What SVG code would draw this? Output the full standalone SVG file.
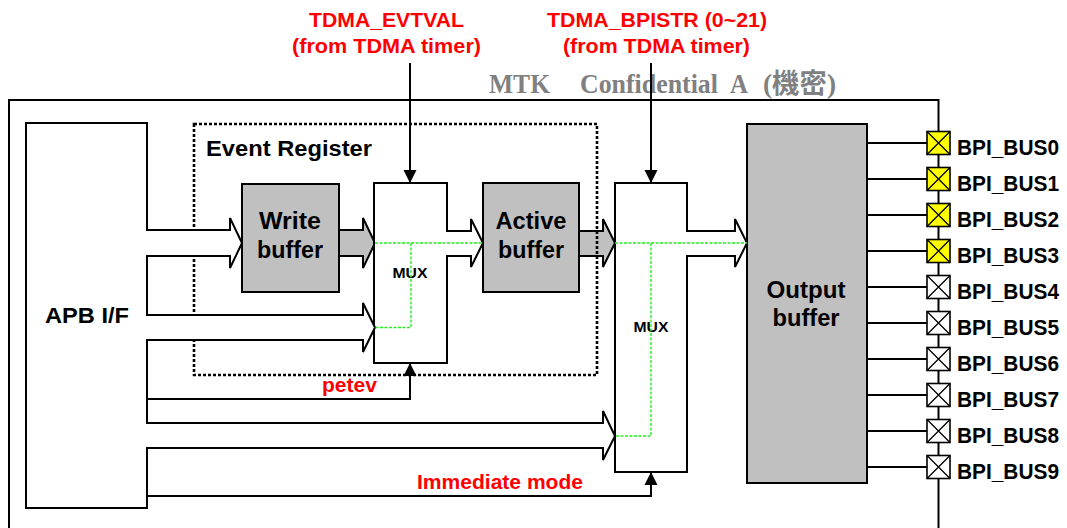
<svg xmlns="http://www.w3.org/2000/svg" width="1067" height="528" viewBox="0 0 1067 528">
<style>
.ln{fill:none;stroke:#000;stroke-width:2;stroke-linejoin:miter}
.wh{fill:#fff;stroke:#000;stroke-width:2}
.gy{fill:#c0c0c0;stroke:#000;stroke-width:2}
.dash{fill:none;stroke:#000;stroke-width:2.6;stroke-dasharray:3 2}
.grn{fill:none;stroke:#22ee22;stroke-width:1.4;stroke-dasharray:3 1.5}
.t{font-family:"Liberation Sans",Arial,sans-serif;font-weight:bold;fill:#000}
.b{font-family:"Liberation Sans",Arial,sans-serif;font-weight:bold;fill:#000;font-size:22px}
.r{font-family:"Liberation Sans",Arial,sans-serif;font-weight:bold;fill:#ff0000}
.wm{font-family:"Liberation Serif","Noto Sans CJK TC",serif;font-weight:bold;fill:#808080;font-size:27px}
.pad{stroke:#000;stroke-width:1.6}
.py{fill:#ffff00}
.pw{fill:#fff}
.px{fill:none;stroke:#000;stroke-width:1.3}
</style>
<defs>
<marker id="ah" viewBox="0 0 10 10" refX="10" refY="5" markerUnits="userSpaceOnUse" markerWidth="13" markerHeight="15" orient="auto">
<path d="M0,0 L10,5 L0,10 Z" fill="#000"/>
</marker>
</defs>

<g id="frame">
<path class="ln" d="M9,528 V100 H938.5 V528"/>
<text class="wm" x="489" y="93" textLength="61" lengthAdjust="spacingAndGlyphs">MTK</text>
<text class="wm" x="580" y="93" textLength="138" lengthAdjust="spacingAndGlyphs">Confidential</text>
<text class="wm" x="730" y="93" textLength="18" lengthAdjust="spacingAndGlyphs">A</text>
<text class="wm" x="763" y="93" textLength="73" lengthAdjust="spacingAndGlyphs">(機密)</text>
</g>

<g id="write-buffer">
<path class="gy" d="M335,230 H363 V218 L375,243 L363,268 V256 H335 Z"/>
<rect class="gy" x="242" y="184" width="97" height="108"/>
<text class="t" x="290" y="229" font-size="23" text-anchor="middle" textLength="62" lengthAdjust="spacingAndGlyphs">Write</text>
<text class="t" x="290" y="258" font-size="23" text-anchor="middle" textLength="66" lengthAdjust="spacingAndGlyphs">buffer</text>
</g>

<g id="mux1">
<path class="wh" d="M374,183 H447 V231 H471 V219 L483,243 L471,267 V256 H447 V363 H374 Z"/>
<text class="t" x="410" y="278" font-size="14" text-anchor="middle" textLength="35" lengthAdjust="spacingAndGlyphs">MUX</text>
</g>

<g id="active-buffer">
<path class="gy" d="M575,231 H603 V219 L615,243 L603,267 V256 H575 Z"/>
<rect class="gy" x="483" y="183" width="96" height="109"/>
<text class="t" x="531" y="229" font-size="23" text-anchor="middle" textLength="71" lengthAdjust="spacingAndGlyphs">Active</text>
<text class="t" x="531" y="258" font-size="23" text-anchor="middle" textLength="66" lengthAdjust="spacingAndGlyphs">buffer</text>
</g>

<g id="mux2">
<path class="wh" d="M615,183 H687 V231 H735 V219 L747,243 L735,267 V256 H687 V472 H615 Z"/>
<text class="t" x="651" y="332" font-size="14" text-anchor="middle" textLength="35" lengthAdjust="spacingAndGlyphs">MUX</text>
</g>

<g id="output-buffer">
<rect class="gy" x="747" y="124" width="120" height="359"/>
<text class="t" x="806" y="298" font-size="23" text-anchor="middle" textLength="79" lengthAdjust="spacingAndGlyphs">Output</text>
<text class="t" x="806" y="326" font-size="23" text-anchor="middle" textLength="67" lengthAdjust="spacingAndGlyphs">buffer</text>
</g>

<g id="event-register">
<rect class="dash" x="194" y="124" width="403" height="251"/>
<text class="t" x="206" y="156" font-size="22" textLength="166" lengthAdjust="spacingAndGlyphs">Event Register</text>
</g>

<g id="apb-if">
<path class="wh" d="M26,123 H147 V230 H230 V218 L242,243 L230,268 V256 H147 V315 H363 V303 L375,327.5 L363,352 V340 H147 V423 H603 V411 L615,436 L603,460 V448 H147 V508 H26 Z"/>
<text class="t" x="45" y="323" font-size="22" textLength="84" lengthAdjust="spacingAndGlyphs">APB I/F</text>
</g>

<g id="pads">
<g id="bpi0"><path class="ln" d="M867,143 H927"/><rect class="pad py" x="927" y="131.5" width="23" height="23"/><path class="px" d="M927,131.5 L950,154.5 M950,131.5 L927,154.5"/><text class="b" x="957" y="155" textLength="102" lengthAdjust="spacingAndGlyphs">BPI_BUS0</text></g>
<g id="bpi1"><path class="ln" d="M867,179 H927"/><rect class="pad py" x="927" y="167.5" width="23" height="23"/><path class="px" d="M927,167.5 L950,190.5 M950,167.5 L927,190.5"/><text class="b" x="957" y="191" textLength="102" lengthAdjust="spacingAndGlyphs">BPI_BUS1</text></g>
<g id="bpi2"><path class="ln" d="M867,215 H927"/><rect class="pad py" x="927" y="203.5" width="23" height="23"/><path class="px" d="M927,203.5 L950,226.5 M950,203.5 L927,226.5"/><text class="b" x="957" y="227" textLength="102" lengthAdjust="spacingAndGlyphs">BPI_BUS2</text></g>
<g id="bpi3"><path class="ln" d="M867,251 H927"/><rect class="pad py" x="927" y="239.5" width="23" height="23"/><path class="px" d="M927,239.5 L950,262.5 M950,239.5 L927,262.5"/><text class="b" x="957" y="263" textLength="102" lengthAdjust="spacingAndGlyphs">BPI_BUS3</text></g>
<g id="bpi4"><path class="ln" d="M867,287 H927"/><rect class="pad pw" x="927" y="275.5" width="23" height="23"/><path class="px" d="M927,275.5 L950,298.5 M950,275.5 L927,298.5"/><text class="b" x="957" y="299" textLength="102" lengthAdjust="spacingAndGlyphs">BPI_BUS4</text></g>
<g id="bpi5"><path class="ln" d="M867,323 H927"/><rect class="pad pw" x="927" y="311.5" width="23" height="23"/><path class="px" d="M927,311.5 L950,334.5 M950,311.5 L927,334.5"/><text class="b" x="957" y="335" textLength="102" lengthAdjust="spacingAndGlyphs">BPI_BUS5</text></g>
<g id="bpi6"><path class="ln" d="M867,359 H927"/><rect class="pad pw" x="927" y="347.5" width="23" height="23"/><path class="px" d="M927,347.5 L950,370.5 M950,347.5 L927,370.5"/><text class="b" x="957" y="371" textLength="102" lengthAdjust="spacingAndGlyphs">BPI_BUS6</text></g>
<g id="bpi7"><path class="ln" d="M867,395 H927"/><rect class="pad pw" x="927" y="383.5" width="23" height="23"/><path class="px" d="M927,383.5 L950,406.5 M950,383.5 L927,406.5"/><text class="b" x="957" y="407" textLength="102" lengthAdjust="spacingAndGlyphs">BPI_BUS7</text></g>
<g id="bpi8"><path class="ln" d="M867,431 H927"/><rect class="pad pw" x="927" y="419.5" width="23" height="23"/><path class="px" d="M927,419.5 L950,442.5 M950,419.5 L927,442.5"/><text class="b" x="957" y="443" textLength="102" lengthAdjust="spacingAndGlyphs">BPI_BUS8</text></g>
<g id="bpi9"><path class="ln" d="M867,467 H927"/><rect class="pad pw" x="927" y="455.5" width="23" height="23"/><path class="px" d="M927,455.5 L950,478.5 M950,455.5 L927,478.5"/><text class="b" x="957" y="479" textLength="102" lengthAdjust="spacingAndGlyphs">BPI_BUS9</text></g>
</g>

<g id="connectors">
<path class="ln" d="M410,63 V183" marker-end="url(#ah)"/>
<path class="ln" d="M651,63 V183" marker-end="url(#ah)"/>
<path class="ln" d="M147,399 H410 V363" marker-end="url(#ah)"/>
<path class="ln" d="M147,496 H651 V472" marker-end="url(#ah)"/>
<path class="grn" d="M375,243 H483 M411,243 V327.5 H375"/>
<path class="grn" d="M615,243 H747 M651,243 V436 H615"/>
</g>

<g id="labels">
<text class="r" x="386.5" y="27" font-size="20" text-anchor="middle" textLength="155" lengthAdjust="spacingAndGlyphs">TDMA_EVTVAL</text>
<text class="r" x="386.5" y="53" font-size="20" text-anchor="middle" textLength="189" lengthAdjust="spacingAndGlyphs">(from TDMA timer)</text>
<text class="r" x="657" y="27" font-size="20" text-anchor="middle" textLength="220" lengthAdjust="spacingAndGlyphs">TDMA_BPISTR (0~21)</text>
<text class="r" x="656.5" y="53" font-size="20" text-anchor="middle" textLength="187" lengthAdjust="spacingAndGlyphs">(from TDMA timer)</text>
<text class="r" x="322" y="392" font-size="20" textLength="55" lengthAdjust="spacingAndGlyphs">petev</text>
<text class="r" x="417" y="489" font-size="20" textLength="166" lengthAdjust="spacingAndGlyphs">Immediate mode</text>
</g>
</svg>
